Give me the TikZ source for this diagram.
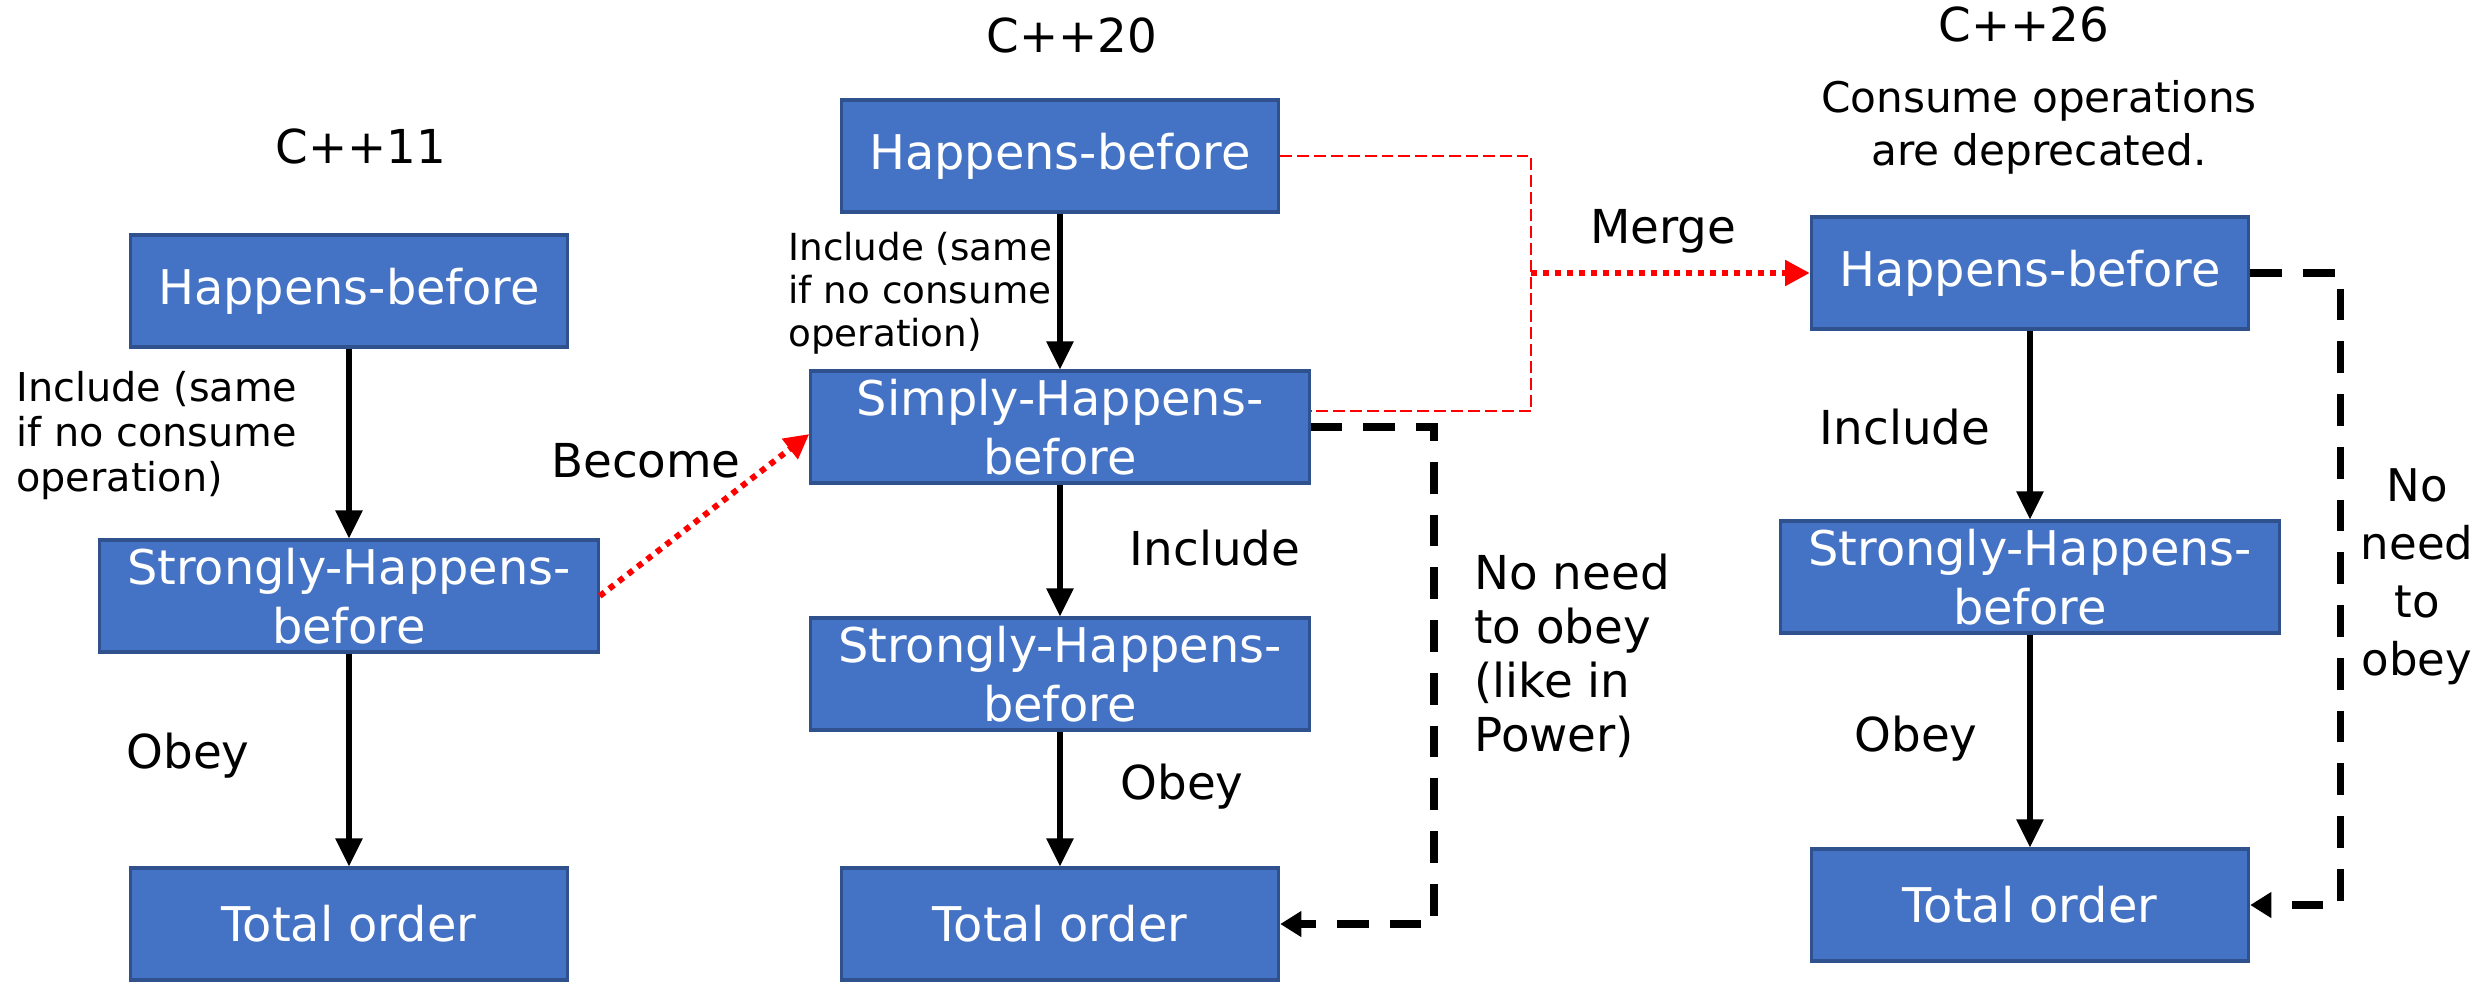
\documentclass[tikz,border=0pt]{standalone}
\usepackage{fontspec}
\setmainfont{DejaVu Sans}
\usetikzlibrary{arrows.meta}

\definecolor{boxblue}{HTML}{4472C4}
\definecolor{boxedge}{HTML}{2F528F}

\begin{document}
\begin{tikzpicture}[x=0.01cm, y=-0.01cm,
    box/.style={draw=boxedge, line width=0.9pt, fill=boxblue, text=white, align=center,
        inner sep=0pt, font=\fontsize{13.6}{16.8}\selectfont},
    wide/.style={box, minimum width=4.98cm, minimum height=1.12cm},
    narrow/.style={box, minimum width=4.37cm, minimum height=1.12cm},
    lbl/.style={font=\fontsize{13.3}{15.4}\selectfont},
    flow/.style={line width=1.5pt, -{Triangle[length=8pt,width=7.5pt]}},
    skip/.style={line width=2pt, dash pattern=on 9pt off 6pt, -{Triangle[length=6pt,width=7pt]}},
    evolve/.style={red, line width=1.7pt, dash pattern=on 1.7pt off 1.7pt, -{Triangle[length=7pt,width=7pt]}},
    bracket/.style={red, line width=0.7pt, dash pattern=on 3.4pt off 1.4pt}]
        \useasboundingbox (0,0) rectangle (2484,981);

        % C++11
        \node[lbl] (t11) at (361,146) {C++11};
        \node[narrow] (hb11) at (349,291) {Happens-before};
        \node[wide] (shb11) at (349,596) {Strongly-Happens-\\before};
        \node[narrow] (to11) at (349,924) {Total order};
        \node[anchor=west, align=left, font=\fontsize{11.3}{12.8}\selectfont] (inc11) at (4,436) {Include (same\\if no consume\\operation)};
        \node[lbl] (obey11) at (188,756) {Obey};
        \draw[flow] (hb11) -- (shb11);
        \draw[flow] (shb11) -- (to11);

        % C++20
        \node[lbl] (t20) at (1072,35) {C++20};
        \node[narrow] (hb20) at (1060,156) {Happens-before};
        \node[wide] (simply) at (1060,427) {Simply-Happens-\\before};
        \node[wide] (shb20) at (1060,674) {Strongly-Happens-\\before};
        \node[narrow] (to20) at (1060,924) {Total order};
        \node[anchor=west, align=left, font=\fontsize{10.6}{12.2}\selectfont] (inc20a) at (776,293) {Include (same\\if no consume\\operation)};
        \node[lbl] (inc20b) at (1215,548) {Include};
        \node[lbl] (obey20) at (1182,787) {Obey};
        \node[lbl, anchor=west, align=left] (skip20) at (1462,656) {No need\\to obey\\(like in\\Power)};
        \draw[flow] (hb20) -- (simply);
        \draw[flow] (simply) -- (shb20);
        \draw[flow] (shb20) -- (to20);
        \coordinate (bend20) at (1434,427);
        \draw[skip] (simply.east) -- (bend20) |- (to20.east);

        % C++26
        \node[lbl] (t26) at (2024,24) {C++26};
        \node[align=center, font=\fontsize{12}{15}\selectfont] (note26) at (2039,127) {Consume operations\\are deprecated.};
        \node[narrow] (hb26) at (2030,273) {Happens-before};
        \node[wide] (shb26) at (2030,577) {Strongly-Happens-\\before};
        \node[narrow] (to26) at (2030,905) {Total order};
        \node[lbl] (inc26) at (1905,427) {Include};
        \node[lbl] (obey26) at (1916,739) {Obey};
        \node[align=center, font=\fontsize{12.8}{16.5}\selectfont] (skip26) at (2417,577) {No\\need\\to\\obey};
        \draw[flow] (hb26) -- (shb26);
        \draw[flow] (shb26) -- (to26);
        \coordinate (bend26) at (2340,273);
        \draw[skip] (hb26.east) -- (bend26) |- (to26.east);

        % between the standards
        \draw[evolve] (shb11.east) -- ([yshift=-2pt]simply.west);
        \node[lbl] (become) at (646,461) {Become};
        \coordinate (mergept) at (1531,273);
        \draw[bracket] (hb20.east) -| (mergept) |- ([yshift=4.5pt]simply.east);
        \draw[evolve] (mergept) -- (hb26.west);
        \node[lbl] (merge) at (1663,231) {Merge};
\end{tikzpicture}
\end{document}
